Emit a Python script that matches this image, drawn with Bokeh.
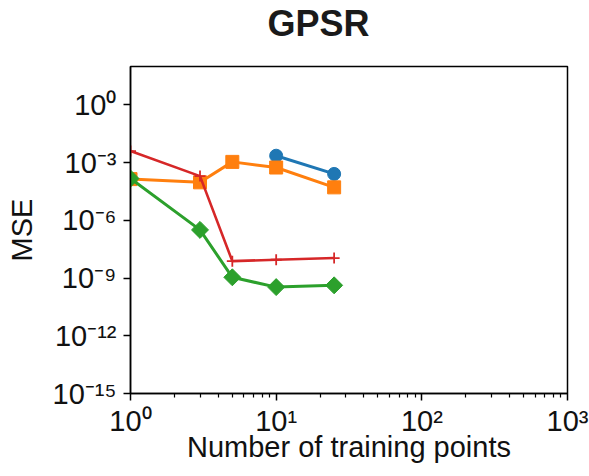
import numpy as np
from bokeh.plotting import figure
from bokeh.models import Range1d, FixedTicker, CustomJSTickFormatter, Title
from bokeh.embed import file_html
from bokeh.resources import INLINE

# MSE versus number of training points, one series per method
n_blue = [10, 25]
mse_blue = [2.3e-3, 2.6e-4]

n_orange = [1, 3, 5, 10, 25]
mse_orange = [1.4e-4, 9.5e-5, 1.1e-3, 5.6e-4, 5.2e-5]

n_red = [1, 3, 5, 10, 25]
mse_red = [4.0e-3, 2.0e-4, 7.6e-9, 9.0e-9, 1.1e-8]

n_green = [1, 3, 5, 10, 25]
mse_green = [1.5e-4, 3.2e-7, 1.1e-9, 3.4e-10, 4.2e-10]

x_major = [1, 10, 100, 1000]
x_minor = [m * d for d in (1, 10, 100) for m in range(2, 10)]
y_major = [1e-15, 1e-12, 1e-9, 1e-6, 1e-3, 1e0]

BLUE, ORANGE, GREEN, RED = "#1f77b4", "#ff7f0e", "#2ca02c", "#d62728"
FONT = "Liberation Sans"

p = figure(
    width=589, height=476,
    x_axis_type="log", y_axis_type="log",
    x_range=Range1d(1, 1000), y_range=Range1d(1e-15, 1e2),
    output_backend="svg", toolbar_location=None,
    min_border_left=130, min_border_right=22,
    min_border_top=66, min_border_bottom=83,
)
p.title = None
p.grid.visible = False
p.outline_line_color = "black"
p.outline_line_width = 1.5
p.background_fill_color = "white"
p.border_fill_color = "white"

# blank spacer title next to the frame, then the heading above it
p.add_layout(Title(text=" ", text_font_size="2px", standoff=16), "above")
p.add_layout(Title(text="GPSR", text_font=FONT, text_font_size="36px",
                   text_font_style="bold", text_color="#1a1a1a",
                   align="left", vertical_align="top", offset=137, standoff=2),
             "above")

sup_fmt = CustomJSTickFormatter(code="""
const e = Math.round(Math.log10(tick));
const sup = {'0':'\u2070','1':'\u00b9','2':'\u00b2','3':'\u00b3','4':'\u2074',
             '5':'\u2075','6':'\u2076','7':'\u2077','8':'\u2078','9':'\u2079','-':'\u207b'};
return '10' + String(e).split('').map(c => sup[c]).join('');
""")

xa = p.xaxis[0]
xa.ticker = FixedTicker(ticks=x_major, minor_ticks=x_minor)
ya = p.yaxis[0]
ya.ticker = FixedTicker(ticks=y_major, minor_ticks=[])

for ax in (xa, ya):
    ax.formatter = sup_fmt
    ax.axis_line_width = 1.5
    ax.major_tick_line_width = 1.5
    ax.minor_tick_line_width = 1.2
    ax.major_tick_in = 0
    ax.major_tick_out = 7
    ax.minor_tick_in = 0
    ax.minor_tick_out = 4
    ax.major_label_text_font = FONT
    ax.major_label_text_font_size = "29px"
    ax.major_label_text_color = "#111111"
    ax.axis_label_text_font = FONT
    ax.axis_label_text_font_size = "29px"
    ax.axis_label_text_font_style = "normal"
    ax.axis_label_text_color = "#111111"

xa.axis_label = "Number of training points"
xa.major_label_standoff = 4
xa.axis_label_standoff = -9
ya.axis_label = "MSE"
ya.major_label_standoff = 7
ya.axis_label_standoff = 12

# blue circles
p.line(n_blue, mse_blue, line_color=BLUE, line_width=3)
p.scatter(n_blue, mse_blue, marker="circle", size=13, fill_color=BLUE, line_color=BLUE)

# orange squares
p.line(n_orange, mse_orange, line_color=ORANGE, line_width=3)
p.scatter(n_orange, mse_orange, marker="square", size=13, fill_color=ORANGE, line_color=ORANGE)

# red plus markers
p.line(n_red, mse_red, line_color=RED, line_width=2.6)
p.scatter(n_red, mse_red, marker="cross", size=11, line_color=RED, line_width=1.8)

# green diamonds (squares turned by 45 degrees)
p.line(n_green, mse_green, line_color=GREEN, line_width=3)
p.scatter(n_green, mse_green, marker="square", angle=np.pi / 4, size=12,
          fill_color=GREEN, line_color=GREEN)

open("out.html", "w").write(file_html(p, INLINE))
